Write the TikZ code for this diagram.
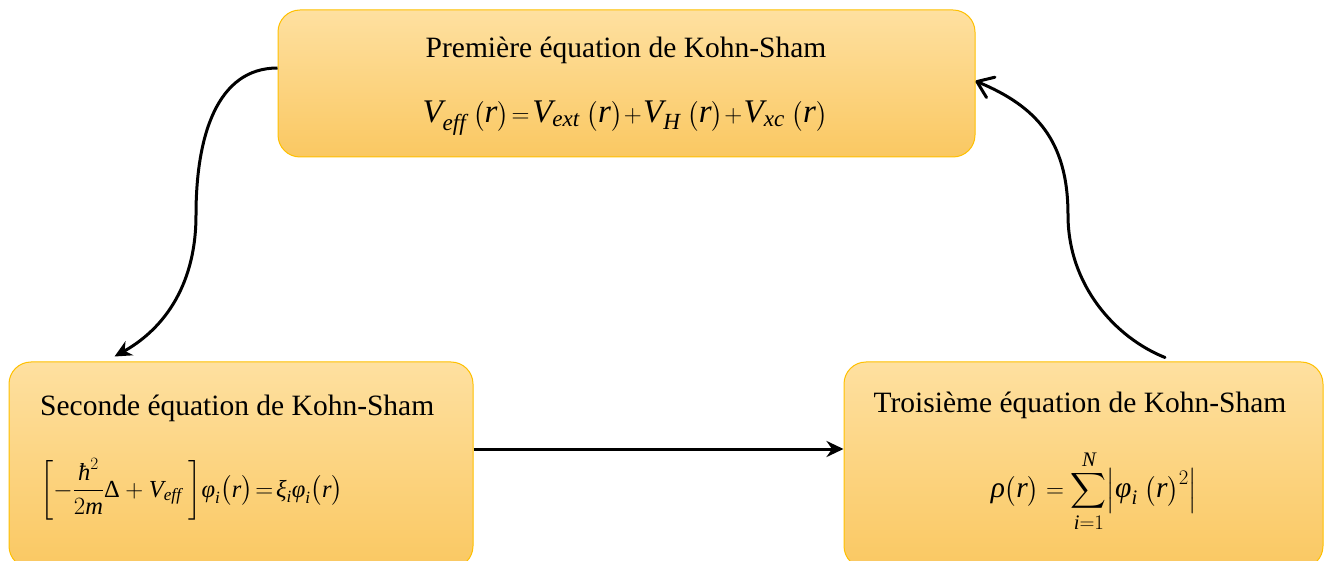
\documentclass[tikz,border=0pt]{standalone}
\usepackage{amsmath}
\usepackage{fontspec}
\setmainfont{Liberation Serif}
\usetikzlibrary{arrows.meta,calc}
\newcommand{\mv}[1]{\textit{#1}}
\definecolor{boxtop}{HTML}{FEE0A0}
\definecolor{boxbot}{HTML}{FAC862}
\definecolor{boxline}{HTML}{FFC000}
\tikzset{
  kbox/.style={draw=boxline, line width=1pt, rounded corners=22pt, top color=boxtop, bottom color=boxbot, inner sep=0pt},
  ttl/.style={font=\fontsize{29.5}{34}\selectfont, inner sep=0pt},
  eqn/.style={inner sep=0pt},
  arr/.style={line width=3pt, -{Stealth[length=17pt,width=16pt]}},
  arrb/.style={line width=3pt, line cap=round, -{Straight Barb[length=15pt,width=22pt,round]}}
}
\begin{document}
\begin{tikzpicture}[x=1pt,y=-1pt]
\useasboundingbox (0,0) rectangle (1331,561);
\node[kbox, minimum width=697pt, minimum height=147pt] (top) at (626.5,83.5) {};
\node[kbox, minimum width=464pt, minimum height=206pt] (left) at (241,465) {};
\node[kbox, minimum width=479pt, minimum height=206pt] (right) at (1083.5,465) {};
\node[ttl] (t1) at (626,50) {Première équation de Kohn-Sham};
\node[eqn] (e1) at (625,118) {\fontsize{33}{38}\selectfont $\mv{V}_{\mv{eff}}\;\bigl(\mv{r}\bigr)\!=\!\mv{V}_{\mv{ext}}\;\bigl(\mv{r}\bigr)\!+\!\mv{V}_{\mv{H}}\;\bigl(\mv{r}\bigr)\!+\!\mv{V}_{\mv{xc}}\;\bigl(\mv{r}\bigr)$};
\node[ttl, anchor=west] (t2) at (40,408) {Seconde équation de Kohn-Sham};
\node[eqn, anchor=west] (e2) at (40,490) {\fontsize{24.5}{29}\selectfont $\left[-\dfrac{\mv{ħ}^{2}}{2\mv{m}}\text{Δ}+\mv{V}_{\mv{eff}}\;\vphantom{\dfrac{\mv{ħ}^{2}}{2\mv{m}_{g}}}\right]\!\mv{φ}_{\mv{i}}\bigl(\mv{r}\bigr)\!=\!\mv{ξ}_{\mv{i}}\mv{φ}_{\mv{i}}\bigl(\mv{r}\bigr)$};
\node[ttl] (t3) at (1094,491) {\fontsize{29.5}{34}\selectfont $\displaystyle\mv{ρ}\bigl(\mv{r}\bigr)=\sum_{\mv{i}=1}^{\mv{N}}\Bigl|\mv{φ}_{\mv{i}}\;\bigl(\mv{r}\bigr)^{2}\Bigr|$};
\node[ttl] (t3b) at (1080,405) {Troisième équation de Kohn-Sham};
\coordinate (c1) at (196,215);
\coordinate (c2) at (1068,215);
\draw[arr] ([yshift=15.5pt]top.west) .. controls +(-60,0) and +(0,-80) .. (c1) .. controls +(0,75) and +(45,-25) .. ([xshift=106pt,yshift=5pt]left.north west);
\draw[arrb] ([xshift=81.5pt,yshift=4pt]right.north) .. controls +(-50,-20) and +(0,70) .. (c2) .. controls +(0,-75) and +(60,25) .. ([yshift=2.5pt]top.east);
\draw[arr] ([yshift=16pt]left.east) -- ([yshift=16pt]right.west);
\end{tikzpicture}
\end{document}
